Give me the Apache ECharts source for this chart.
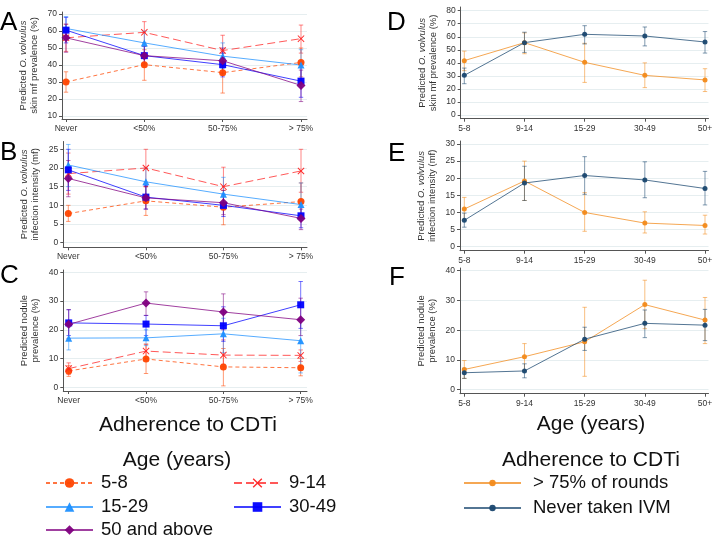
<!DOCTYPE html>
<html><head><meta charset="utf-8">
<script src="https://cdn.jsdelivr.net/npm/echarts@6/dist/echarts.min.js"></script>
<style>html,body{margin:0;padding:0;background:#fff}#c{width:719px;height:538px}</style>
</head><body><div id="c"></div>
<script>
// ---------- DATA ----------
const adherenceLabels = ['Never', '<50%', '50-75%', '> 75%'];
const ageLabels = ['5-8', '9-14', '15-29', '30-49', '50+'];
const ageGroups = ['5-8', '9-14', '15-29', '30-49', '50 and above'];
const adherenceGroups = ['> 75% of rounds', 'Never taken IVM'];

// Panel A: skin mf prevalence (%) by adherence; rows = age groups
const mfPrevAdhEst = [[30, 40.2, 35.5, 41.5], [56, 59.2, 48.5, 55.5], [61.5, 53, 45.2, 40], [60.5, 45.5, 40.2, 30.5], [56, 45.5, 42.5, 28]];
const mfPrevAdhLo  = [[24, 31, 23.5, 33], [48, 53, 40, 47], [55, 46, 38, 31], [53, 41, 33, 21], [47.5, 40, 35, 18.5]];
const mfPrevAdhHi  = [[36, 49, 47, 50], [64, 65.5, 57.5, 63.5], [68.5, 60, 53, 49], [68, 51, 47, 40], [64, 51, 50, 37]];
// Panel B: infection intensity (mf) by adherence
const intensAdhEst = [[7.8, 11.2, 9.5, 11], [18.5, 20, 15, 19.2], [20.8, 16.3, 13, 10.2], [19.5, 12.2, 10, 7.2], [17.2, 12, 10.7, 6.5]];
const intensAdhLo  = [[5.7, 7.3, 4.8, 6], [13, 15, 10, 13.5], [15, 12, 9, 6], [14, 9, 7, 4], [12.3, 9, 7.5, 3.5]];
const intensAdhHi  = [[10, 15, 14, 16], [24, 25, 20.2, 25], [26.3, 20, 17.5, 16], [25, 15.3, 13, 10.5], [22, 15, 14, 9]];
// Panel C: nodule prevalence (%) by adherence
const noduleAdhEst = [[5.7, 9.85, 7.1, 6.8], [6.5, 12.6, 11.2, 11.1], [17.1, 17.2, 18.6, 16.2], [22.4, 22, 21.4, 28.7], [21.9, 29.3, 26.2, 23.5]];
const noduleAdhLo  = [[3.8, 4.8, 0.5, 4], [4.5, 10, 8, 9], [13, 14.5, 12, 5], [18, 18, 16, 20.5], [17, 25, 20, 18]];
const noduleAdhHi  = [[7.5, 15, 13.5, 10], [8.5, 15, 16.5, 13], [21, 20, 24, 24], [27, 25, 28, 36.8], [27, 33.2, 32.5, 31]];
// Panel D: skin mf prevalence (%) by age; rows = adherence groups
const mfPrevAgeEst = [[41.7, 55.5, 40.4, 30.4, 26.9], [30.4, 55.5, 61.9, 60.6, 56]];
const mfPrevAgeLo  = [[34, 47, 25, 21, 18], [24, 48, 54.5, 53, 47.5]];
const mfPrevAgeHi  = [[49, 63, 55, 40, 35.5], [36, 63.5, 68.5, 67.5, 64]];
// Panel E: infection intensity (mf) by age
const intensAgeEst = [[11, 19.2, 10, 6.9, 6.2], [7.7, 18.6, 20.8, 19.5, 17]];
const intensAgeLo  = [[8, 13.5, 4.5, 4, 3.7], [5.7, 13.5, 15.3, 14.3, 12.2]];
const intensAgeHi  = [[14.4, 25, 15.8, 10.2, 9.2], [9.8, 23.5, 26.3, 24.8, 22]];
// Panel F: nodule prevalence (%) by age
const noduleAgeEst = [[6.8, 11.1, 16.1, 28.6, 23.4], [5.7, 6.3, 17, 22.3, 21.7]];
const noduleAgeLo  = [[3.8, 6.5, 4.5, 20.5, 15.5], [3.8, 4, 13.2, 17.5, 16.5]];
const noduleAgeHi  = [[9.8, 15.5, 27.7, 36.8, 31], [7.2, 8.7, 21, 26.8, 27]];

// tick labels
const ticksA = [10, 20, 30, 40, 50, 60, 70];
const ticksB = [0, 5, 10, 15, 20, 25];
const ticksC = [0, 10, 20, 30, 40];
const ticksD = [0, 10, 20, 30, 40, 50, 60, 70, 80];
const ticksE = [0, 5, 10, 15, 20, 25, 30];
const ticksF = [0, 10, 20, 30, 40];

// ---------- STYLE / LAYOUT ----------
const FONT = 'Liberation Sans, Arial, sans-serif';
const ageStyles = [
  {color: '#ff4500', symbol: 'circle', size: 7, dash: [4, 3]},
  {color: '#ff2020', symbol: 'path://M0,1L1,0L5,4L9,0L10,1L6,5L10,9L9,10L5,6L1,10L0,9L4,5Z', size: 7, dash: [8, 4]},
  {color: '#1e90ff', symbol: 'triangle', size: 7, dash: 'solid'},
  {color: '#0000ff', symbol: 'rect', size: 7, dash: 'solid'},
  {color: '#800080', symbol: 'diamond', size: 9, dash: 'solid'}
];
const adhStyles = [
  {color: '#f28a1a', symbol: 'circle', size: 5, dash: 'solid'},
  {color: '#1a476f', symbol: 'circle', size: 5, dash: 'solid'}
];

// panel layout: grid edges in px, and px positions of reference ticks
const panels = [
  {l: 62, r: 307, t: 12, b: 119, cx0: 66, cx1: 301, ncat: 4, yv0: 10, yp0: 116, yv1: 70, yp1: 14, ticks: ticksA,
   est: mfPrevAdhEst, lo: mfPrevAdhLo, hi: mfPrevAdhHi, groups: ageGroups, styles: ageStyles, cats: adherenceLabels,
   name: '{n|Predicted }{i|O. volvulus}\n{n|skin mf prevalence (%)}'},
  {l: 63.3, r: 307, t: 141.5, b: 247.3, cx0: 68.3, cx1: 301, ncat: 4, yv0: 0, yp0: 242.7, yv1: 25, yp1: 149.3, ticks: ticksB,
   est: intensAdhEst, lo: intensAdhLo, hi: intensAdhHi, groups: ageGroups, styles: ageStyles, cats: adherenceLabels,
   name: '{n|Predicted }{i|O. volvulus}\n{n|infection intensity (mf)}'},
  {l: 63.3, r: 307, t: 270, b: 391, cx0: 68.7, cx1: 300.7, ncat: 4, yv0: 0, yp0: 387.3, yv1: 40, yp1: 272.3, ticks: ticksC,
   est: noduleAdhEst, lo: noduleAdhLo, hi: noduleAdhHi, groups: ageGroups, styles: ageStyles, cats: adherenceLabels,
   name: '{n|Predicted nodule}\n{n|prevalence (%)}'},
  {l: 460.7, r: 708.5, t: 7, b: 118.7, cx0: 464.3, cx1: 705, ncat: 5, yv0: 0, yp0: 115, yv1: 80, yp1: 10.7, ticks: ticksD,
   est: mfPrevAgeEst, lo: mfPrevAgeLo, hi: mfPrevAgeHi, groups: adherenceGroups, styles: adhStyles, cats: ageLabels,
   name: '{n|Predicted }{i|O. volvulus}\n{n|skin mf prevalence (%)}'},
  {l: 460, r: 708.5, t: 141, b: 250.7, cx0: 464.3, cx1: 705, ncat: 5, yv0: 0, yp0: 246.7, yv1: 30, yp1: 144, ticks: ticksE,
   est: intensAgeEst, lo: intensAgeLo, hi: intensAgeHi, groups: adherenceGroups, styles: adhStyles, cats: ageLabels,
   name: '{n|Predicted }{i|O. volvulus}\n{n|infection intensity (mf)}'},
  {l: 460, r: 708.5, t: 268, b: 393.7, cx0: 464.3, cx1: 705, ncat: 5, yv0: 0, yp0: 389.7, yv1: 40, yp1: 270.7, ticks: ticksF,
   est: noduleAgeEst, lo: noduleAgeLo, hi: noduleAgeHi, groups: adherenceGroups, styles: adhStyles, cats: ageLabels,
   name: '{n|Predicted nodule}\n{n|prevalence (%)}'}
];

function range(p0, v0, p1, v1, pa, pb) {
  const k = (p1 - p0) / (v1 - v0);
  return [v0 + (pa - p0) / k, v0 + (pb - p0) / k];
}

const grids = [], xAxes = [], yAxes = [], series = [];
const axisLineStyle = {color: '#555', width: 1};
panels.forEach((p, i) => {
  grids.push({left: p.l, top: p.t, width: p.r - p.l, height: p.b - p.t});
  const xr = range(p.cx0, 0, p.cx1, p.ncat - 1, p.l, p.r);
  const yr = range(p.yp0, p.yv0, p.yp1, p.yv1, p.b, p.t);
  const catIdx = p.cats.map((c, j) => j);
  xAxes.push({
    type: 'value', gridIndex: i, min: xr[0], max: xr[1],
    axisLine: {show: true, onZero: false, lineStyle: axisLineStyle},
    axisTick: {show: true, length: 3, customValues: catIdx, lineStyle: axisLineStyle},
    axisLabel: {customValues: catIdx, formatter: v => p.cats[Math.round(v)], fontSize: 8.5, color: '#333', margin: 5, fontFamily: FONT},
    splitLine: {show: false}
  });
  yAxes.push({
    type: 'value', gridIndex: i, min: yr[0], max: yr[1],
    axisLine: {show: true, onZero: false, lineStyle: axisLineStyle},
    axisTick: {show: true, length: 3, customValues: p.ticks, lineStyle: axisLineStyle},
    axisLabel: {customValues: p.ticks, fontSize: 8.5, color: '#333', margin: 5, fontFamily: FONT},
    splitLine: {show: true, lineStyle: {color: '#e6eef0', width: 1}},
    name: p.name, nameLocation: 'middle', nameGap: 22, nameRotate: 90,
    nameTextStyle: {
      fontFamily: FONT, color: '#333', lineHeight: 11,
      rich: {n: {fontSize: 9.5, fontFamily: FONT, color: '#333', lineHeight: 11},
             i: {fontSize: 9.5, fontFamily: FONT, color: '#333', fontStyle: 'italic', lineHeight: 11}}
    }
  });
  p.groups.forEach((g, gi) => {
    const st = p.styles[gi];
    const ci = p.est[gi].map((v, j) => [j, p.lo[gi][j], p.hi[gi][j]]);
    series.push({
      type: 'custom', name: g + ' CI', xAxisIndex: i, yAxisIndex: i, z: 1, silent: true,
      encode: {x: 0, y: [1, 2]},
      data: ci,
      renderItem: function (params, api) {
        const x = api.value(0);
        const a = api.coord([x, api.value(1)]);
        const b = api.coord([x, api.value(2)]);
        const w = 2.2;
        const s = {stroke: st.color, lineWidth: 1, opacity: 0.55};
        return {type: 'group', children: [
          {type: 'line', shape: {x1: a[0], y1: a[1], x2: b[0], y2: b[1]}, style: s},
          {type: 'line', shape: {x1: a[0] - w, y1: a[1], x2: a[0] + w, y2: a[1]}, style: s},
          {type: 'line', shape: {x1: b[0] - w, y1: b[1], x2: b[0] + w, y2: b[1]}, style: s}
        ]};
      }
    });
    series.push({
      type: 'line', name: g, xAxisIndex: i, yAxisIndex: i, z: 3,
      data: p.est[gi].map((v, j) => [j, v]),
      symbol: st.symbol, symbolSize: st.size, showSymbol: true,
      lineStyle: {color: st.color, width: 1, type: st.dash, opacity: 0.75},
      itemStyle: {color: st.color, opacity: 0.95},
      emphasis: {disabled: true}, animation: false
    });
  });
});

// one legend per entry so that each sits in its own place
const legendSpots = [
  {name: '5-8', left: 45, cy: 483, w: 47, h: 12, pad: 3},
  {name: '9-14', left: 233, cy: 483, w: 47, h: 12, pad: 3},
  {name: '15-29', left: 45, cy: 507, w: 47, h: 12, pad: 3},
  {name: '30-49', left: 233, cy: 507, w: 47, h: 12, pad: 3},
  {name: '50 and above', left: 45, cy: 530, w: 47, h: 12, pad: 3},
  {name: '> 75% of rounds', left: 463, cy: 483, w: 57, h: 8, pad: 7},
  {name: 'Never taken IVM', left: 463, cy: 508, w: 57, h: 8, pad: 7}
];
const legends = legendSpots.map(s => ({
  data: [s.name], orient: 'horizontal', left: s.left, top: s.cy - 10, padding: 0,
  itemWidth: s.w, itemHeight: s.h, selectedMode: false,
  textStyle: {fontSize: 18.5, fontFamily: FONT, color: '#111', lineHeight: 20, padding: [0, 0, 0, s.pad]}
}));

const letter = (t, x, y) => ({type: 'text', left: x, top: y, style: {text: t, fontSize: 26, fontFamily: FONT, fill: '#000'}});
const bigText = (t, x, y) => ({type: 'text', x: x, y: y, style: {text: t, fontSize: 21, fontFamily: FONT, fill: '#111', textAlign: 'center', textVerticalAlign: 'middle'}});
const option = {
  animation: false,
  backgroundColor: '#fff',
  grid: grids, xAxis: xAxes, yAxis: yAxes, series: series,
  legend: legends,
  graphic: [
    letter('A', 0, 10), letter('B', 0, 140), letter('C', 0, 263),
    letter('D', 387, 10), letter('E', 388, 141), letter('F', 389, 265),
    bigText('Adherence to CDTi', 188, 425),
    bigText('Age (years)', 591, 424),
    bigText('Age (years)', 177, 460),
    bigText('Adherence to CDTi', 591, 460)
  ]
};
const chart = echarts.init(document.getElementById('c'), null, {renderer: 'canvas'});
chart.setOption(option);
</script>
</body></html>
